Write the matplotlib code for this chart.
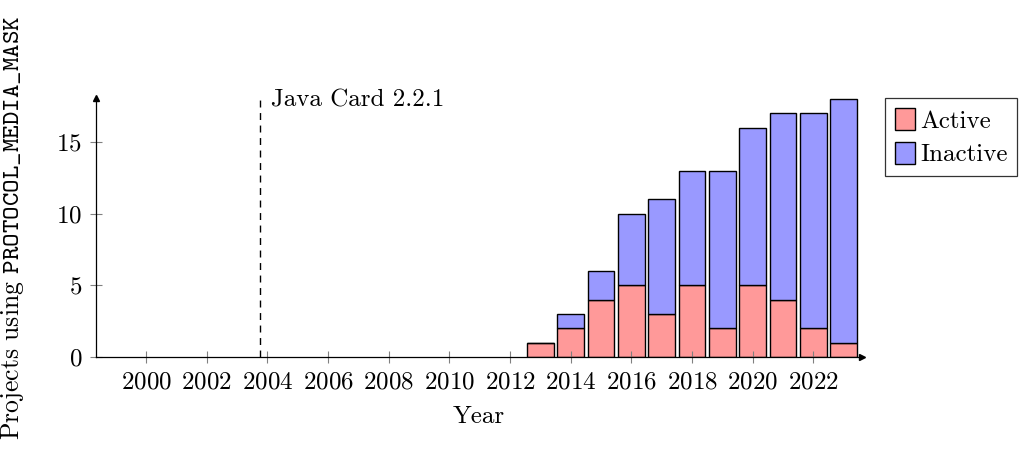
import matplotlib.pyplot as plt
import numpy as np

plt.rcParams['font.family'] = 'cmr10'
plt.rcParams['mathtext.fontset'] = 'cm'
plt.rcParams['axes.formatter.use_mathtext'] = True

# data
years = [2013, 2014, 2015, 2016, 2017, 2018, 2019, 2020, 2021, 2022, 2023]
active = [1, 2, 4, 5, 3, 5, 2, 5, 4, 2, 1]
inactive = [0, 1, 2, 5, 8, 8, 11, 11, 13, 15, 17]
xticks = list(range(2000, 2023, 2))
yticks = [0, 5, 10, 15]
release_year = 2003.75
release_label = 'Java Card 2.2.1'

FS = 18

fig = plt.figure(figsize=(10.24, 4.55), dpi=100)
ax = fig.add_axes([0.09375, 0.2154, 0.748, 0.5692])

ax.bar(years, active, width=0.88, color='#ff9999', edgecolor='black',
       linewidth=1, label='Active')
ax.bar(years, inactive, width=0.88, bottom=active, color='#9999ff',
       edgecolor='black', linewidth=1, label='Inactive')

ax.set_xlim(1998.35, 2023.6)
ax.set_ylim(0, 18.07)
ax.set_xticks(xticks)
ax.set_yticks(yticks)
ax.tick_params(direction='inout', length=8, color='gray', labelsize=FS, pad=6)

for s in ['top', 'right']:
    ax.spines[s].set_visible(False)
for s in ['left', 'bottom']:
    ax.spines[s].set_color('black')
    ax.spines[s].set_linewidth(0.9)
ax.plot(1, 0, '>k', markersize=5, transform=ax.transAxes, clip_on=False)
ax.plot(0, 1, '^k', markersize=5, transform=ax.transAxes, clip_on=False)

# release marker
ax.plot([release_year, release_year], [0, 18.07], color='black',
        linestyle=(0, (5, 4)), linewidth=1, clip_on=False)
ax.text(release_year + 0.38, 17.9, release_label, fontsize=FS,
        ha='left', va='center')

ax.set_xlabel('Year', fontsize=FS, labelpad=9)
ax.set_ylabel(r'Projects using $\mathtt{PROTOCOL\_MEDIA\_MASK}$', fontsize=18.5,
              labelpad=22)

leg = ax.legend(loc='upper left', bbox_to_anchor=(1.03, 1.0), fontsize=FS,
                frameon=True, fancybox=False, edgecolor='black',
                handlelength=0.8, handleheight=1.0, handletextpad=0.2,
                borderpad=0.4, labelspacing=0.35, borderaxespad=0)
leg.get_frame().set_linewidth(0.9)

fig.savefig('out.png', dpi=100)
